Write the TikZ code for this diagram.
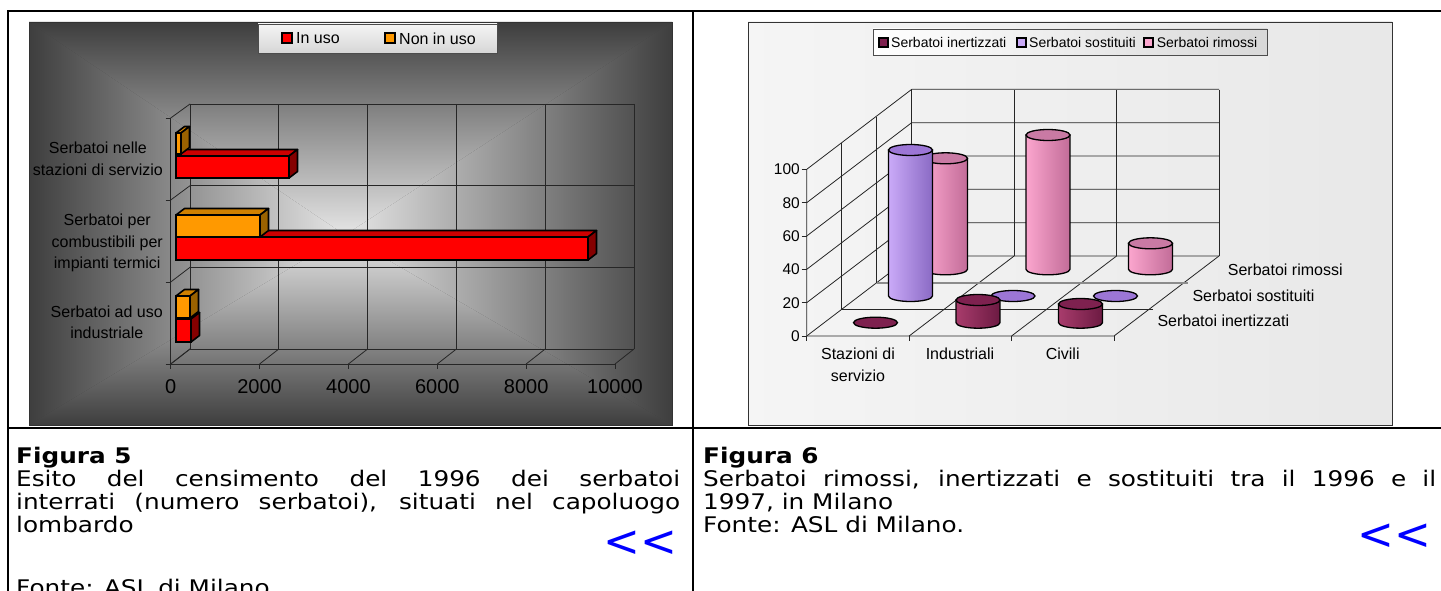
\documentclass[tikz,border=0pt]{standalone}
\usepackage{fontspec}
\setmainfont{Liberation Sans}
\newfontfamily\capfont[FakeStretch=1.15]{DejaVu Sans}
\newfontfamily\linkfont{DejaVu Sans}
\usetikzlibrary{calc}

\definecolor{bgdark}{HTML}{3E3E3E}
\definecolor{bglight}{HTML}{E6E6E6}
\definecolor{inuso}{HTML}{FF0000}
\definecolor{inusotop}{HTML}{CC0000}
\definecolor{inusoside}{HTML}{850000}
\definecolor{nonuso}{HTML}{FF9900}
\definecolor{nonusotop}{HTML}{D08000}
\definecolor{nonusoside}{HTML}{9A6200}
\definecolor{inertL}{HTML}{A83C6C}
\definecolor{inertR}{HTML}{6C1A42}
\definecolor{inertT}{HTML}{7E214F}
\definecolor{sostL}{HTML}{CAAAF8}
\definecolor{sostR}{HTML}{8A6AC4}
\definecolor{sostT}{HTML}{9C76D6}
\definecolor{rimL}{HTML}{FBA6CE}
\definecolor{rimR}{HTML}{C26C98}
\definecolor{rimT}{HTML}{C97AA4}
\definecolor{linkblue}{HTML}{0000FF}

% 3d bar: front, top, side colour; front face corners (x0,y0) (x1,y1), y measured downwards
\def\barbox[#1,#2,#3](#4,#5)(#6,#7){%
  \draw[line width=1.6pt, line join=round, fill=#2] (#4,-#5) -- (#4+8.5,-#5+6.5) -- (#6+8.5,-#5+6.5) -- (#6,-#5) -- cycle;
  \draw[line width=1.6pt, line join=round, fill=#3] (#6,-#5) -- (#6+8.5,-#5+6.5) -- (#6+8.5,-#7+6.5) -- (#6,-#7) -- cycle;
  \draw[line width=1.6pt, fill=#1] (#4,-#5) rectangle (#6,-#7);
}
% cylinder: body left, body right, top colour; centre x, base y, top y
\def\tankcyl[#1,#2,#3](#4,#5,#6){%
  \shadedraw[left color=#1, right color=#2, line width=1.3pt] (#4-22,-#6) -- (#4-22,-#5) arc (180:360:22 and 5.5) -- (#4+22,-#6) -- cycle;
  \draw[fill=#3, line width=1.3pt] (#4,-#6) ellipse (22 and 5.5);
}
% empty cylinder (value 0)
\def\flatcyl[#1](#2,#3){\draw[fill=#1, line width=1.3pt] (#2,-#3) ellipse (22 and 5.5);}

\begin{document}
\begin{tikzpicture}[x=1pt,y=1pt,
  gridline/.style={line width=0.8pt, color=black!85},
  axisnum/.style={inner sep=0pt, font=\fontsize{20}{24}\selectfont},
  catlabel/.style={inner sep=0pt, align=center, font=\fontsize{16}{21.5}\selectfont},
  legtext/.style={inner sep=0pt, anchor=west, font=\fontsize{16}{18}\selectfont},
  smalllegtext/.style={inner sep=0pt, anchor=west, font=\fontsize{14}{16}\selectfont},
  captext/.style={inner sep=0pt, anchor=base west, font=\capfont\fontsize{21.5}{23}\selectfont},
  backlink/.style={inner sep=0pt, text=linkblue, font=\linkfont\fontsize{44}{44}\selectfont}]
\useasboundingbox (0,0) rectangle (1441,-591);
\fill[white] (0,0) rectangle (1441,-591);

%%%%% LEFT CHART %%%%%
\fill[bgdark] (29,-22) rectangle (672,-425);
\shade[top color=bgdark, bottom color=bglight] (29,-22) -- (672,-22) -- (345,-235) -- cycle;
\shade[top color=bglight, bottom color=bgdark] (29,-425) -- (672,-425) -- (345,-235) -- cycle;
\shade[left color=bgdark, right color=bglight] (29,-22) -- (29,-425) -- (345,-235) -- cycle;
\shade[left color=bglight, right color=bgdark] (672,-22) -- (672,-425) -- (345,-235) -- cycle;
\draw[line width=0.8pt, color=black!80] (29,-22) rectangle (672,-425);

% legend
\shade[top color=white!96!black, bottom color=white!84!black, draw=black!70, line width=0.8pt] (258,-24) rectangle (497,-53);
\draw[fill=inuso, line width=1.2pt] (282,-33) rectangle (292,-43);
\node[legtext] (inusoLbl) at (296,-38.5) {In uso};
\draw[fill=nonuso, line width=1.2pt] (385,-33) rectangle (395,-43);
\node[legtext] (nonusoLbl) at (399,-38.5) {Non in uso};

% back wall and floor
\foreach \i in {0,...,5} {
  \draw[gridline] (190+88.8*\i,-104) -- (190+88.8*\i,-349);
  \draw[gridline] (170.7+88.86*\i,-364) -- (190+88.8*\i,-349);
  \draw[gridline] (170.7+88.86*\i,-364) -- (170.7+88.86*\i,-368.5);
  \pgfmathtruncatemacro\xv{2000*\i}
  \node[axisnum] (xnum\i) at (170.7+88.86*\i,-387) {\xv};
}
\foreach \y/\yb in {118/104, 200/185.7, 282/267.3, 364/349} {
  \draw[gridline] (190,-\yb) -- (634,-\yb);
  \draw[gridline] (170.7,-\y) -- (190,-\yb);
  \draw[gridline] (165.7,-\y) -- (170.7,-\y);
}
\draw[gridline] (170.7,-118) -- (170.7,-364) -- (614.9,-364);

% bars
\barbox[inuso,inusotop,inusoside](176,156)(289,178)
\barbox[nonuso,nonusotop,nonusoside](176,133)(181,154)
\barbox[inuso,inusotop,inusoside](176,237)(588,260)
\barbox[nonuso,nonusotop,nonusoside](176,215)(260,237)
\barbox[inuso,inusotop,inusoside](176,319)(191,342)
\barbox[nonuso,nonusotop,nonusoside](176,296)(190,318)

\node[catlabel, anchor=east] (catA) at (163,-158.7) {Serbatoi nelle\\stazioni di servizio};
\node[catlabel, anchor=east] (catB) at (163,-243) {Serbatoi per\\combustibili per\\impianti termici};
\node[catlabel, anchor=east] (catC) at (163,-322.4) {Serbatoi ad uso\\industriale};

%%%%% RIGHT CHART %%%%%
\shade[left color=white!96!black, right color=white!91!black] (748,-22) rectangle (1392,-425);
\draw[line width=0.8pt, color=black!80] (748,-22) rectangle (1392,-425);

% legend
\shade[left color=white, right color=white!85!black, draw=black!70, line width=0.8pt] (873,-29) rectangle (1267,-55);
\draw[fill=inertT, line width=1.1pt] (879,-38) rectangle (888,-47);
\node[smalllegtext] (inertLbl) at (891,-42.3) {Serbatoi inertizzati};
\draw[fill=sostL, line width=1.1pt] (1017,-38) rectangle (1026,-47);
\node[smalllegtext] (sostLbl) at (1029,-42.3) {Serbatoi sostituiti};
\draw[fill=rimL, line width=1.1pt] (1144,-38) rectangle (1153,-47);
\node[smalllegtext] (rimLbl) at (1156.6,-42.3) {Serbatoi rimossi};

% walls and floor
\foreach \k in {0,...,5} {
  \draw[gridline] (806.7,-336+33.33*\k) -- (911.7,-256+33.33*\k) -- (1219,-256+33.33*\k);
  \draw[gridline] (801.5,-336+33.33*\k) -- (806.7,-336+33.33*\k);
  \pgfmathtruncatemacro\yv{20*\k}
  \node[catlabel, anchor=east, font=\fontsize{15.5}{18}\selectfont] (ynum\k) at (800,-336+33.33*\k) {\yv};
}
\foreach \j in {0,...,3} {
  \draw[gridline] (911.7+102.43*\j,-256) -- (911.7+102.43*\j,-90);
  \draw[gridline] (806.7+102.43*\j,-336) -- (806.7+102.43*\j,-340.5);
}
\foreach \j in {1,2}
  \draw[gridline] (806.7+102.43*\j,-336) -- (911.7+102.43*\j,-256);
\draw[gridline] (806.7,-169.3) -- (806.7,-336) -- (1114,-336) -- (1219,-256);
\draw[gridline] (841.7,-143.3) -- (841.7,-309.3) -- (1153,-309.3);
\draw[gridline] (876.7,-116.7) -- (876.7,-282.7);
\draw[line width=1.8pt, color=black!45] (876.7,-282.7) -- (1188,-282.7);

% cylinders, back row first
\tankcyl[rimL,rimR,rimT](945.5,269.3,158.3)
\tankcyl[rimL,rimR,rimT](1048,269.3,135)
\tankcyl[rimL,rimR,rimT](1150.5,269.3,243.3)
\tankcyl[sostL,sostR,sostT](910.5,296,150)
\flatcyl[sostT](1013,296)
\flatcyl[sostT](1115.5,296)
\flatcyl[inertT](875.5,322.7)
\tankcyl[inertL,inertR,inertT](978,322.7,300)
\tankcyl[inertL,inertR,inertT](1080.5,322.7,304)

\node[catlabel] (staz) at (858,-365) {Stazioni di\\servizio};
\node[catlabel, anchor=base] (indu) at (960,-359.7) {Industriali};
\node[catlabel, anchor=base] (civi) at (1062.7,-359.7) {Civili};
\node[catlabel, anchor=west] (serRim) at (1227.7,-269.3) {Serbatoi rimossi};
\node[catlabel, anchor=west] (serSos) at (1192.3,-296) {Serbatoi sostituiti};
\node[catlabel, anchor=west] (serIne) at (1157.3,-320.7) {Serbatoi inertizzati};

%%%%% TABLE %%%%%
\draw[line width=2.4pt] (7,-11) -- (1441,-11);
\draw[line width=2.4pt] (8,-11) -- (8,-591);
\draw[line width=2.4pt] (693,-11) -- (693,-591);
\draw[line width=2.4pt] (8,-428) -- (1441,-428);

% captions
\node[captext, font=\capfont\bfseries\fontsize{21.5}{23}\selectfont] (figA) at (16,-463) {Figura 5};
\node[captext] (txtA1) at (16,-486) {\makebox[664pt][s]{Esito del censimento del 1996 dei serbatoi}};
\node[captext] (txtA2) at (16,-509) {\makebox[664pt][s]{interrati (numero serbatoi), situati nel capoluogo}};
\node[captext] (txtA3) at (16,-532) {lombardo};
\node[captext] (srcA) at (16,-595) {Fonte: ASL di Milano};
\node[backlink] (backA) at (640,-544) {<<};

\node[captext, font=\capfont\bfseries\fontsize{21.5}{23}\selectfont] (figB) at (703,-463) {Figura 6};
\node[captext] (txtB1) at (703,-486) {\makebox[733pt][s]{Serbatoi rimossi, inertizzati e sostituiti tra il 1996 e il}};
\node[captext] (txtB2) at (703,-509) {1997, in Milano};
\node[captext] (srcB) at (703,-532) {Fonte: ASL di Milano.};
\node[backlink] (backB) at (1394,-537) {<<};
\end{tikzpicture}
\end{document}
